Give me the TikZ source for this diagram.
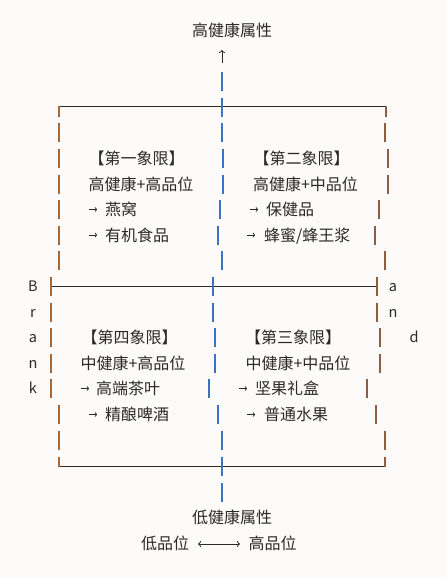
\documentclass[tikz,border=0pt]{standalone}
\usepackage{fontspec}
\setmainfont{Noto Sans CJK SC}
\usetikzlibrary{arrows.meta}
\definecolor{bgc}{HTML}{FDFBF9}
\definecolor{ink}{HTML}{2A2A2A}
\definecolor{barA}{HTML}{A8683A}
\definecolor{barB}{HTML}{3D72BE}
\definecolor{barC}{HTML}{8E5E44}
\begin{document}
\begin{tikzpicture}[x=1pt,y=-1pt,
  txt/.style={font=\fontsize{16}{16}\selectfont, text=ink, inner sep=0pt, outer sep=0pt},
  ltr/.style={font=\fontsize{14.5}{14.5}\selectfont, text=ink, inner sep=0pt, outer sep=0pt, anchor=base},
  barbase/.style={line width=1.5pt},
  hline/.style={draw=ink, line width=1pt},
  smallarr/.style={draw=ink, line width=0.8pt, -{To[length=2.2pt,width=4.5pt]}},
  bigarr/.style={draw=ink, line width=0.8pt, {To[length=3pt,width=6pt]}-{To[length=3pt,width=6pt]}},
  uparr/.style={draw=ink, line width=0.8pt, -{To[length=3pt,width=6pt]}}
]
\fill[bgc] (0,0) rectangle (447,579);
\useasboundingbox (0,0) rectangle (447,579);

% horizontal lines
\draw[hline] (59,106.5) -- (386,106.5);
\draw[hline] (51,286.5) -- (377,286.5);
\draw[hline] (59,466.5) -- (385,466.5);

% vertical bar characters: left column
\foreach \x/\y in {59/132.5, 59/158.5, 59/184, 59/209.5, 59/235, 59/260.5,
  51/286.5, 51/312, 51/337.5, 51/363, 51/388.5, 59/414.5, 59/440}
  \draw[barbase, draw=barA] (\x,\y-9.5) -- ++(0,19);
% centre column
\foreach \x/\y in {222/81, 222/107, 222/132.5, 223/158.5, 223/184, 220/209.5, 218/235, 222/260.5,
  213/286.5, 213/312, 215/337.5, 215/363, 209/388.5, 218/414.5, 222/440, 222/466, 222/492}
  \draw[barbase, draw=barB] (\x,\y-9.5) -- ++(0,19);
% right column
\foreach \x/\y in {385/132.5, 388/158.5, 388/184, 379/209.5, 375/235, 385/260.5,
  377/286.5, 377/312, 380/337.5, 380/363, 367/388.5, 376/414.5, 385/440}
  \draw[barbase, draw=barC] (\x,\y-9.5) -- ++(0,19);
% corner ticks
\foreach \x/\y/\c in {59/106/barA, 386/106/barC, 59/456.5/barA, 385/456.5/barC}
  \draw[barbase, draw=\c] (\x,\y) -- ++(0,10.5);

% axis titles
\node[txt, anchor=base] (top) at (232,36.5) {高健康属性};
\coordinate (upS) at (222,63);
\coordinate (upE) at (222,50);
\draw[uparr] (upS) -- (upE);
\node[txt, anchor=base] (bot) at (232,523.5) {低健康属性};
\node[txt, anchor=base] (lo) at (165,549) {低品位};
\node[txt, anchor=base] (hi) at (272.5,549) {高品位};
\draw[bigarr, shorten <=9pt, shorten >=8.5pt] ([yshift=5pt]lo.base east) -- ([yshift=5pt]hi.base west);

% quadrant 1
\node[txt, anchor=base] (q1t) at (136.5,164.5) {【第一象限】};
\node[txt, anchor=base] (q1s) at (141,190) {高健康+高品位};
\node[txt, anchor=base west] (q1a) at (105,215.5) {燕窝};
\node[txt, anchor=base west] (q1b) at (105,241) {有机食品};
% quadrant 2
\node[txt, anchor=base] (q2t) at (301.5,164.5) {【第二象限】};
\node[txt, anchor=base] (q2s) at (305.5,190) {高健康+中品位};
\node[txt, anchor=base west] (q2a) at (266,215.5) {保健品};
\node[txt, anchor=base west] (q2b) at (264,241) {蜂蜜/蜂王浆};
% quadrant 4
\node[txt, anchor=base] (q4t) at (129.5,343.5) {【第四象限】};
\node[txt, anchor=base] (q4s) at (133,369) {中健康+高品位};
\node[txt, anchor=base west] (q4a) at (96,394.5) {高端茶叶};
\node[txt, anchor=base west] (q4b) at (105,420.5) {精酿啤酒};
% quadrant 3
\node[txt, anchor=base] (q3t) at (293,343.5) {【第三象限】};
\node[txt, anchor=base] (q3s) at (298,369) {中健康+中品位};
\node[txt, anchor=base west] (q3a) at (255,394.5) {坚果礼盒};
\node[txt, anchor=base west] (q3b) at (264,420.5) {普通水果};

% small arrows
\foreach \x/\y in {89/209.5, 250/209.5, 89/235, 247/235, 81/388.5, 239/388.5, 89/414.5, 247/414.5}
  \draw[smallarr] (\x,\y) -- ++(8,0);

% Brand letters
\node[ltr] (b1) at (33,291.8) {B};
\node[ltr] (b2) at (33,317.3) {r};
\node[ltr] (b3) at (33,342.8) {a};
\node[ltr] (b4) at (33,368.3) {n};
\node[ltr] (b5) at (33,393.8) {k};
\node[ltr] (b6) at (393,291.8) {a};
\node[ltr] (b7) at (393,317.3) {n};
\node[ltr] (b8) at (414,342.8) {d};
\end{tikzpicture}
\end{document}
